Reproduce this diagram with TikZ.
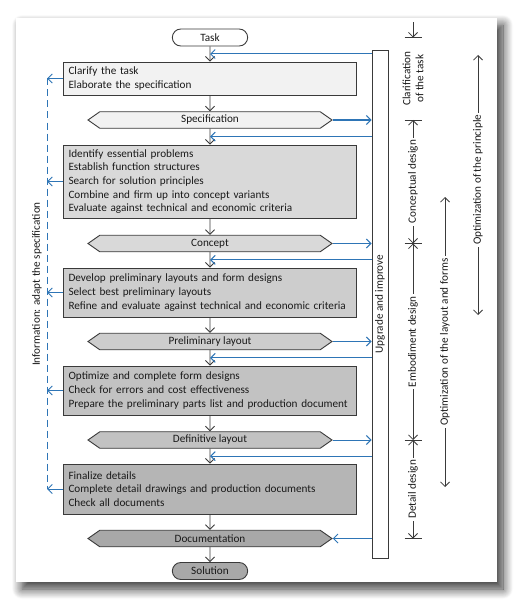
\documentclass[tikz,border=0pt]{standalone}
\usepackage{fontspec}
\setmainfont{Carlito}
\usetikzlibrary{arrows.meta,calc,shapes.misc,shapes.symbols,shadows.blur}
\definecolor{edge}{HTML}{3A3A3A}
\definecolor{ink}{HTML}{1A1A1A}
\definecolor{fb}{HTML}{2E75B6}
\definecolor{fillA}{HTML}{F2F2F2}
\definecolor{fillB}{HTML}{D9D9D9}
\definecolor{fillC}{HTML}{CDCDCD}
\definecolor{fillD}{HTML}{C2C2C2}
\definecolor{fillE}{HTML}{B5B5B5}
\definecolor{fillF}{HTML}{A8A8A8}
\newcommand\figfont{\fontsize{11.2}{13.7}\selectfont}

\begin{document}
\begin{tikzpicture}[x=1pt,y=-1pt,
		>={Straight Barb[length=4.5pt,width=9pt]},
		font=\figfont, text=ink,
		stepbox/.style={draw=edge, line width=0.9pt, text width=283pt, align=left, inner xsep=5pt, inner ysep=1pt},
		result/.style={signal, signal to=west and east, signal pointer angle=70, draw=edge, line width=0.9pt, minimum width=244pt, minimum height=16.5pt, inner ysep=0pt},
		terminal/.style={rounded rectangle, draw=edge, line width=0.9pt, minimum width=82pt, minimum height=17pt, inner ysep=0pt},
		flow/.style={->, draw=edge, line width=0.8pt},
		feedback/.style={->, draw=fb, line width=1pt},
		dimline/.style={draw=edge, line width=0.8pt},
		dimtext/.style={rotate=90, fill=white, inner xsep=2pt, inner ysep=0pt}]
	\useasboundingbox (0,0) rectangle (528,615);
	% sheet
	\fill[white, blur shadow={shadow xshift=6pt, shadow yshift=-7pt, shadow blur radius=10pt, shadow blur steps=12, shadow opacity=80}] (16,18) rectangle (497,582);

	\node[terminal, fill=white] (task) at (210,37.5) {Task};
	\foreach \n/\y/\h/\c/\t in {
		clar/78.5/33/fillA/{Clarify the task\\Elaborate the specification},
		iden/181.5/73/fillB/{Identify essential problems\\Establish function structures\\Search for solution principles\\Combine and firm up into concept variants\\Evaluate against technical and economic criteria},
		deve/292.5/49/fillC/{Develop preliminary layouts and form designs\\Select best preliminary layouts\\Refine and evaluate against technical and economic criteria},
		opti/390.5/49/fillD/{Optimize and complete form designs\\Check for errors and cost effectiveness\\Prepare the preliminary parts list and production document},
		fina/489/50/fillE/{Finalize details\\Complete detail drawings and production documents\\Check all documents}}
	{
		\node[stepbox, fill=\c, minimum height=\h pt] (\n) at (210,\y) {\t};
	}
	\foreach \n/\y/\c/\t in {spec/120/fillA/Specification, conc/243.5/fillB/Concept, prel/341.5/fillC/Preliminary layout, defi/440/fillD/Definitive layout, docu/538.5/fillF/Documentation}
	{
		\node[result, fill=\c] (\n) at (210,\y) {\t};
	}
	\node[terminal, fill=fillF] (solu) at (210,571) {Solution};

	\foreach \a/\b in {task/clar,clar/spec,spec/iden,iden/conc,conc/deve,deve/prel,prel/opti,opti/defi,defi/fina,fina/docu,docu/solu}
		\draw[flow] (\a) -- (\b);

	% upgrade column
	\node[draw=edge, line width=0.9pt, fill=white, minimum width=16pt, minimum height=508pt] (upg) at (380,304) {};
	\node[rotate=90] (upgtext) at (upg) {Upgrade and improve};
	\foreach \a/\b [count=\i] in {task/clar,spec/iden,conc/deve,prel/opti,defi/fina}
	{
		\coordinate (back\i) at ($(\a.south)!0.5!(\b.north)$);
		\draw[feedback] (upg.west |- back\i) -- (back\i);
	}
	\foreach \n in {spec,conc,prel,defi}
		\draw[feedback] (\n.east) -- (\n.east -| upg.west);
	\draw[feedback] (docu.east -| upg.west) -- (docu.east);

	% information back to the specification
	\coordinate (infotop) at ($(clar.west)+(-16,0)$);
	\coordinate (infobot) at ($(fina.west)+(-16,0)$);
	\draw[fb, line width=1.1pt, dash pattern=on 7pt off 4pt] (infotop) -- (infobot);
	\foreach \n in {clar,iden,deve,opti,fina}
		\draw[feedback] (\n.west) -- (\n.west -| infotop);
	\node[rotate=90] (info) at (37,284) {Information: adapt the specification};

	% phases
	\coordinate (dim) at (413,0);
	\foreach \n/\m in {task/c0,spec/c1,conc/c2,defi/c3,docu/c4}
	{
		\coordinate (\m) at (\n -| dim);
		\draw[dimline] ($(\m)+(-8.5,0)$) -- ($(\m)+(8.5,0)$);
	}
	\draw[dimline, ->] ($(c0)+(0,-15)$) -- (c0);
	\node[rotate=90, align=center, font=\fontsize{11.2}{13}\selectfont] (clartext) at ($(c0)!0.5!(c1)$) {Clarification\\of the task};
	\draw[dimline, <->] (c1) -- node[dimtext] (conctext) {Conceptual design} (c2);
	\draw[dimline, <->] (c2) -- node[dimtext] (embotext) {Embodiment design} (c3);
	\draw[dimline, <->] (c3) -- node[dimtext] (detatext) {Detail design} (c4);

	\coordinate (lay1) at (445,197);
	\coordinate (lay2) at (445,487);
	\draw[dimline, <->] (lay1) -- node[dimtext] (laytext) {Optimization of the layout and forms} (lay2);
	\coordinate (pri1) at (478,55);
	\coordinate (pri2) at (478,315);
	\draw[dimline, <->] (pri1) -- node[dimtext, pos=0.48] (pritext) {Optimization of the principle} (pri2);
\end{tikzpicture}
\end{document}
